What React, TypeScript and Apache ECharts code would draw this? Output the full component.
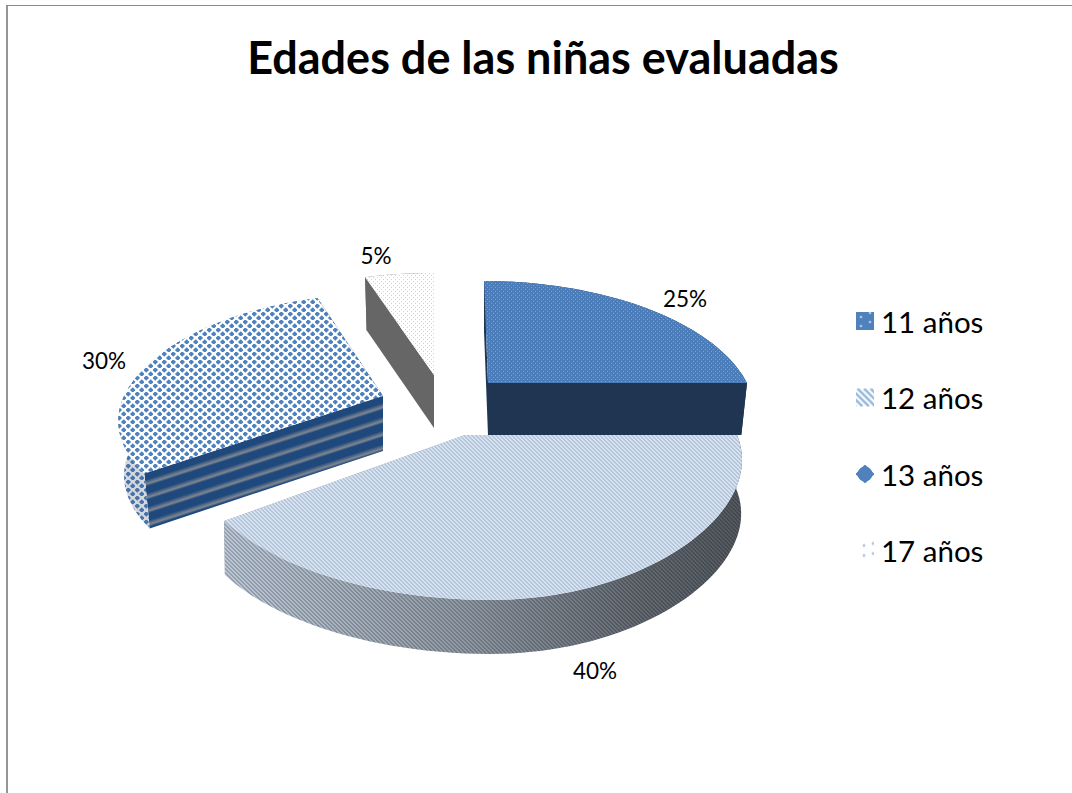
import React, { useEffect, useRef } from "react";
import * as echarts from "echarts";

const titleText = "Edades de las niñas evaluadas";
const categories = ["11 años", "12 años", "13 años", "17 años"];
const percentages = [25, 40, 30, 5];

// Layout of each exploded, tilted slice (screen geometry of the 3D view)
const sliceLayout = [
  { ax: 488, ay: 383, rightA: 259, rightK: 0.236, leftA: 259, skew: -4, frontSkew: 0, frontB: 1, depth: 52, bottomScale: 0.978, labelX: 685, labelY: 298, z: 3 },
  { ax: 465, ay: 435, rightA: 272, rightK: 0.1, leftA: 272, skew: 0, frontSkew: 25, frontB: 1, depth: 54, bottomScale: 0.997, labelX: 595, labelY: 670, z: 4 },
  { ax: 383, ay: 396, rightA: 259, rightK: 0.236, leftA: 259, skew: 0, frontSkew: 8, frontB: 0.9, depth: 55, bottomScale: 0.978, labelX: 104, labelY: 360, z: 2 },
  { ax: 434, ay: 375, rightA: 273, rightK: 0.236, leftA: 273, skew: 0, frontSkew: 0, frontB: 1, depth: 53, bottomScale: 0.978, labelX: 376, labelY: 255, z: 1 },
];
const TILT_B = 126;
const TILT_K = 0.236;
const FONT = "Lato";

function makeCanvas(w: number, h: number, paint: (c: CanvasRenderingContext2D) => void) {
  const cv = document.createElement("canvas");
  cv.width = w;
  cv.height = h;
  paint(cv.getContext("2d") as CanvasRenderingContext2D);
  return cv;
}
function pat(cv: HTMLCanvasElement) {
  return { image: cv, repeat: "repeat" } as any;
}
function diamond(c: CanvasRenderingContext2D, x: number, y: number, r: number) {
  c.beginPath();
  c.moveTo(x - r, y);
  c.lineTo(x, y - r);
  c.lineTo(x + r, y);
  c.lineTo(x, y + r);
  c.closePath();
  c.fill();
}
function diagonal(base: string, stripe: string) {
  return makeCanvas(4, 4, (c) => {
    c.fillStyle = base;
    c.fillRect(0, 0, 4, 4);
    c.fillStyle = stripe;
    for (let i = 0; i < 4; i++) c.fillRect(i, i, 1, 1);
    for (let i = 0; i < 4; i++) c.fillRect((i + 1) % 4, i, 1, 1);
  });
}
function dots(base: string, dot: string) {
  return makeCanvas(4, 4, (c) => {
    c.fillStyle = base;
    c.fillRect(0, 0, 4, 4);
    c.fillStyle = dot;
    c.fillRect(1, 1, 1, 1);
    c.fillRect(3, 3, 1, 1);
  });
}
function checker() {
  return makeCanvas(9, 8, (c) => {
    c.fillStyle = "#ffffff";
    c.fillRect(0, 0, 9, 8);
    c.fillStyle = "#4f81bd";
    diamond(c, 2.25, 2, 2.8);
    diamond(c, 6.75, 6, 2.8);
  });
}
function legendIcon(paint: (c: CanvasRenderingContext2D) => void) {
  return "image://" + makeCanvas(18, 18, paint).toDataURL();
}

export default function App() {
  const ref = useRef<HTMLDivElement>(null);
  useEffect(() => {
    document.body.style.margin = "0";
    const chart = echarts.init(ref.current as HTMLDivElement, undefined, { renderer: "svg" });

    const total = percentages.reduce((a, b) => a + b, 0);
    const tops = [
      pat(dots("#4b7dba", "#7ba3d3")),
      pat(diagonal("#d9e3ef", "#b4c6db")),
      pat(checker()),
      pat(dots("#ffffff", "#c3d4e8")),
    ];
    const arcWall = [
      "#1f3552",
      pat(diagonal("#c8d3e0", "#9ba8b8")),
      pat(checker()),
      "#666666",
    ];

    const icons = [
      legendIcon((c) => {
        c.fillStyle = "#4f81bd";
        c.fillRect(0, 0, 18, 18);
        c.fillStyle = "#b8cde6";
        [[5, 5], [14, 1], [5, 14], [14, 10]].forEach(([x, y]) => diamond(c, x, y, 1.6));
      }),
      legendIcon((c) => {
        c.fillStyle = "#ffffff";
        c.fillRect(0, 0, 18, 18);
        c.strokeStyle = "#9bbbdf";
        c.lineWidth = 2.6;
        for (let i = -18; i < 18; i += 6.5) {
          c.beginPath();
          c.moveTo(i, 0);
          c.lineTo(i + 18, 18);
          c.stroke();
        }
      }),
      legendIcon((c) => {
        c.fillStyle = "#4f81bd";
        diamond(c, 9, 9, 9.5);
        c.beginPath();
        c.arc(9, 9, 7.4, 0, Math.PI * 2);
        c.fill();
      }),
      legendIcon((c) => {
        c.fillStyle = "#a9c3e2";
        [[8, 4], [17, 2], [8, 14], [17, 12]].forEach(([x, y]) => diamond(c, x, y, 1.7));
      }),
    ];

    const makeRender = (index: number) => () => {
      const s = sliceLayout[index];
      const before = percentages.slice(0, index).reduce((a, b) => a + b, 0);
      const t0 = (before / total) * Math.PI * 2;
      const t1 = ((before + percentages[index]) / total) * Math.PI * 2;
      const project = (theta: number): number[] => {
        const u = Math.sin(theta);
        const v = Math.cos(theta);
        const w = 1 + TILT_K * v;
        const dx =
          u >= 0 ? (s.rightA * u) / (1 + s.rightK * v) : (s.leftA * u) / w;
        const dy = (TILT_B * v) / w;
        return [
          s.ax + dx + s.skew * Math.max(v, 0) + s.frontSkew * Math.max(-v, 0),
          s.ay - (v < 0 ? dy * s.frontB : dy),
        ];
      };
      const lower = (p: number[]): number[] => [
        s.ax + (p[0] - s.ax) * s.bottomScale,
        p[1] + s.depth,
      ];
      const arc: number[][] = [];
      const steps = Math.max(4, Math.round(((t1 - t0) * 180) / Math.PI / 2));
      for (let i = 0; i <= steps; i++) arc.push(project(t0 + ((t1 - t0) * i) / steps));
      const apex = [s.ax, s.ay];
      const apexLow = lower(apex);
      const first = arc[0];
      const last = arc[arc.length - 1];
      const poly = (points: number[][], fill: any) => ({
        type: "polygon",
        shape: { points },
        style: { fill, stroke: null },
        silent: true,
      });
      const children: any[] = [];

      const radialFill = (a: number[]): any => {
        if (index === 0) return "#1f3552";
        if (index === 3) return "#666666";
        if (index === 1) return "#8a8f96";
        // slice 3: banded front wall, bands run parallel to its top edge
        const ex = a[0] - s.ax;
        const ey = a[1] - s.ay;
        const len = Math.hypot(ex, ey);
        const nx = -ey / len;
        const ny = ex / len;
        const sign = ny < 0 ? -1 : 1;
        const span = s.depth * Math.abs(ny);
        const gx = s.ax + nx * sign * span;
        const gy = s.ay + ny * sign * span;
        const stops: any[] = [];
        const bands = 4;
        for (let i = 0; i < bands; i++) {
          const b = i / bands;
          const step = 1 / bands;
          stops.push({ offset: b, color: "#1f497d" });
          stops.push({ offset: b + step * 0.5, color: "#1f497d" });
          stops.push({ offset: b + step * 0.82, color: "#7f8690" });
          stops.push({ offset: b + step, color: "#1f497d" });
        }
        return { type: "linear", x: s.ax, y: s.ay, x2: gx, y2: gy, global: true, colorStops: stops };
      };

      // the farther radial wall goes first, the nearer one over it
      const ordered = first[1] < last[1] ? [first, last] : [last, first];
      ordered.forEach((p) => children.push(poly([apex, p, lower(p), apexLow], radialFill(p))));
      const wall = [...arc, ...arc.map(lower).reverse()];
      children.push(poly(wall, arcWall[index]));
      if (index === 1) {
        children.push(
          poly(wall, {
            type: "linear",
            x: 225,
            y: 0,
            x2: 745,
            y2: 0,
            global: true,
            colorStops: [
              { offset: 0, color: "rgba(0,0,0,0.05)" },
              { offset: 0.45, color: "rgba(0,0,0,0.27)" },
              { offset: 0.8, color: "rgba(0,0,0,0.5)" },
              { offset: 1, color: "rgba(0,0,0,0.58)" },
            ],
          })
        );
      }
      if (index === 2) children.push(poly(wall, "rgba(40,60,90,0.2)"));
      children.push(poly([apex, ...arc], tops[index]));
      children.push({
        type: "text",
        x: s.labelX,
        y: s.labelY,
        silent: true,
        style: {
          text: percentages[index] + "%",
          fontFamily: FONT,
          fontSize: 22.5,
          fill: "#000000",
          align: "center",
          verticalAlign: "middle",
        },
      });
      return { type: "group", children };
    };

    chart.setOption({
      animation: false,
      backgroundColor: "#ffffff",
      title: {
        text: titleText,
        left: 538,
        top: 29,
        textAlign: "center",
        textStyle: { fontFamily: FONT, fontWeight: "bold", fontSize: 45, color: "#000000" },
      },
      legend: {
        orient: "vertical",
        left: 856,
        top: 306,
        padding: 0,
        selectedMode: false,
        itemWidth: 18,
        itemHeight: 18,
        itemGap: 46.5,
        textStyle: { fontFamily: FONT, fontSize: 29.5, color: "#000000", padding: [0, 0, 0, 2] },
        data: categories.map((name, i) => ({ name, icon: icons[i] })),
      },
      graphic: [
        { type: "rect", silent: true, shape: { x: 6, y: 5, width: 2, height: 788 }, style: { fill: "#969696" } },
        { type: "rect", silent: true, shape: { x: 6, y: 5, width: 1066, height: 1 }, style: { fill: "#8c8c8c" } },
      ],
      series: categories.map((name, i) => ({
        type: "custom",
        name,
        coordinateSystem: "none",
        z: sliceLayout[i].z,
        data: [percentages[i]],
        itemStyle: { color: "#4f81bd" },
        renderItem: makeRender(i),
      })),
    });
    return () => chart.dispose();
  }, []);
  return <div ref={ref} style={{ width: 1072, height: 793 }} />;
}
